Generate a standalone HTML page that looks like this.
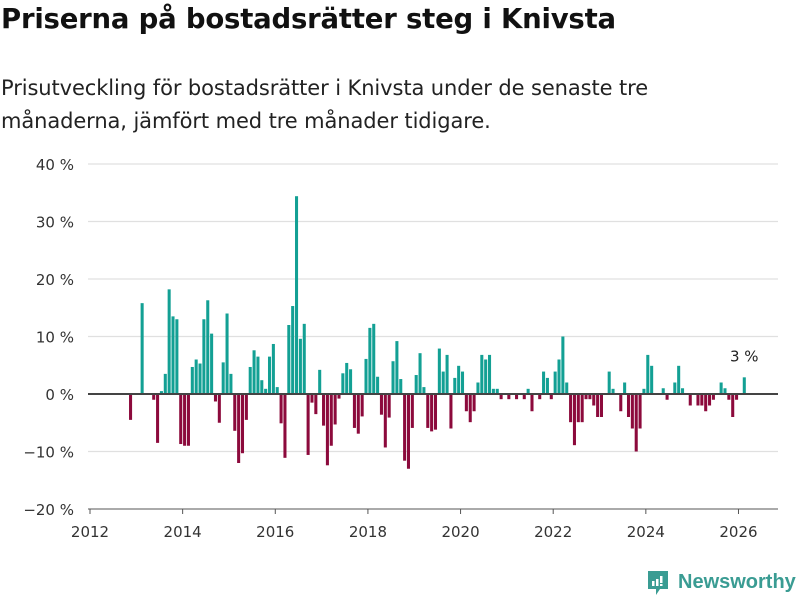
<!DOCTYPE html>
<html><head><meta charset="utf-8"><style>
body{margin:0;background:#fff;width:800px;height:600px;overflow:hidden;font-family:"DejaVu Sans",sans-serif;}
#title{position:absolute;left:1px;top:3px;font-size:27.5px;font-weight:bold;color:#111;margin:0;letter-spacing:-0.2px;white-space:nowrap}
#sub{position:absolute;left:1px;top:72px;font-size:21px;line-height:33px;color:#222;margin:0;width:700px;letter-spacing:-0.1px}
svg{position:absolute;left:0;top:0}
</style></head><body>
<h1 id="title">Priserna på bostadsrätter steg i Knivsta</h1>
<p id="sub">Prisutveckling för bostadsrätter i Knivsta under de senaste tre månaderna, jämfört med tre månader tidigare.</p>
<svg id="chart" width="800" height="600"></svg>
<div style="position:absolute;left:646px;top:569px;">
<svg width="24" height="28" style="position:absolute;left:0;top:0">
<path d="M2 2h20v18h-8l-4 6v-6H2z" fill="#3a9c93"/>
<rect x="6" y="12" width="2.5" height="5" fill="#fff"/><rect x="10" y="10" width="2.5" height="7" fill="#fff"/><rect x="14" y="7" width="2.5" height="7" fill="#fff"/><rect x="14" y="15" width="2.5" height="2" fill="#fff"/>
</svg>
<span style="position:absolute;left:32px;top:2px;font-family:'Liberation Sans',sans-serif;font-size:20px;font-weight:bold;color:#3a9c93;white-space:nowrap">Newsworthy</span>
</div>
<script>
const startMonth = 10; // Nov 2012, months since Jan 2012
const values = [
-4.5,0,
0,15.8,0,0,-1,-8.5,0.5,3.5,18.2,13.5,13,-8.7,
-9,-9,4.7,6,5.3,13,16.3,10.5,-1.3,-5,5.5,14,
3.5,-6.4,-12,-10.3,-4.5,4.7,7.6,6.5,2.4,0.9,6.5,8.7,
1.2,-5.1,-11.1,12,15.3,34.4,9.6,12.2,-10.6,-1.5,-3.5,4.2,
-5.5,-12.4,-9,-5.3,-0.8,3.6,5.4,4.3,-5.9,-6.9,-3.9,6.1,
11.5,12.2,3,-3.6,-9.3,-4.1,5.7,9.2,2.6,-11.6,-13,-5.9,
3.3,7.1,1.2,-5.9,-6.5,-6.2,7.9,3.9,6.8,-6,2.8,4.9,
3.9,-3,-4.9,-3,2,6.8,6,6.8,0.9,0.9,-0.9,0,
-0.9,0,-0.9,0,-0.9,0.9,-3,0,-0.9,3.9,2.8,-0.9,
3.9,6,10,2,-4.9,-8.9,-4.9,-4.9,-0.9,-0.9,-2,-4,
-4,0,3.9,0.9,0,-3,2,-4,-6,-10,-6,0.9,
6.8,4.9,0,0,1,-1,0,2,4.9,1,0,-2,
0,-2,-2,-3,-2,-1,0,2,1,-1,-4,-1,
0,2.9];
const yTicks = [-20,-10,0,10,20,30,40];
const yTickLabels = ["−20 %","−10 %","0 %","10 %","20 %","30 %","40 %"];
const xYears = [2012,2014,2016,2018,2020,2022,2024,2026];
const lastLabel = "3 %";

const NS="http://www.w3.org/2000/svg";
const svg=document.getElementById('chart');
const pitch=3.86;
const FONT='DejaVu Sans, sans-serif';
function x(m){return 90+(m+0.5)*pitch;}
function xYear(yr){return 90+(yr-2012)*12*pitch;}
function y(v){return 394-v*5.75;}
function mk(tag,attrs){const e=document.createElementNS(NS,tag);for(const k in attrs)e.setAttribute(k,attrs[k]);svg.appendChild(e);return e;}

yTicks.forEach((t,i)=>{
  if(t!==0&&t!==-20){const g=mk('line',{x1:88,x2:778,y1:y(t),y2:y(t),stroke:'#e0e0e0','stroke-width':1.3});
  
  }
  const l=mk('text',{x:74,y:y(t)+6,'text-anchor':'end','font-size':15,fill:'#333','font-family':FONT});
  l.textContent=yTickLabels[i];
  
  
});
const base=mk('line',{x1:88,x2:778,y1:y(-20),y2:y(-20),stroke:'#555','stroke-width':1});


xYears.forEach(yr=>{
  const tk=mk('line',{x1:xYear(yr),x2:xYear(yr),y1:y(-20),y2:y(-20)+5,stroke:'#555'});
  
  
  const l=mk('text',{x:xYear(yr),y:537,'text-anchor':'middle','font-size':15,fill:'#333','font-family':FONT});
  l.textContent=yr;
  
  
});
values.forEach((v,i)=>{
  if(v===0)return;
  const m=startMonth+i;
  const r=mk('rect',{x:x(m)-1.5,width:3.05,y:Math.min(y(v),y(0)),height:Math.abs(y(v)-y(0)),fill:v>0?'#13a094':'#8c0a3c'});
  
  
});
const zero=mk('line',{x1:88,x2:778,y1:y(0),y2:y(0),stroke:'#444','stroke-width':2});


const lastM=startMonth+values.length-1;
const ll=mk('text',{x:x(lastM),y:y(values[values.length-1])-16,'text-anchor':'middle','font-size':15,fill:'#222','font-family':FONT});
ll.textContent=lastLabel;


</script>
</body></html>
